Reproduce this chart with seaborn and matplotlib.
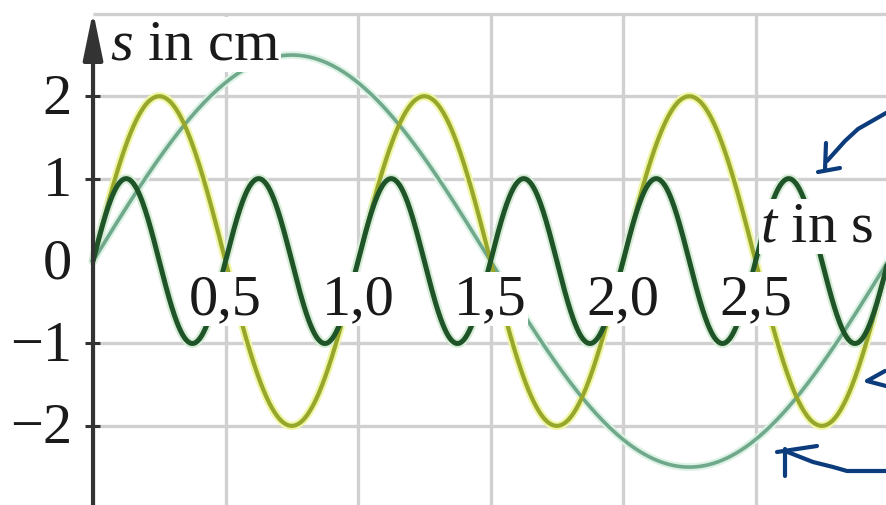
import numpy as np
import pandas as pd
import matplotlib
matplotlib.use("Agg")
import matplotlib.pyplot as plt
import seaborn as sns

# three oscillations (amplitude in cm, period in s)
oscillations = ["langsam", "mittel", "schnell"]
amplitudes_cm = [2.5, 2.0, 1.0]
periods_s = [3.0, 1.0, 0.5]
line_colors = ["#70a88c", "#97a72b", "#1f5428"]
halo_colors = ["#dcf2e4", "#f1f6a6", "#d6ecd6"]
line_widths = [2.6, 3.0, 3.6]

x_ticks = [0.5, 1.0, 1.5, 2.0, 2.5]
x_tick_labels = ["0,5", "1,0", "1,5", "2,0", "2,5"]
y_ticks = [2, 1, 0, -1, -2]
y_tick_labels = ["2", "1", "0", "−1", "−2"]

# hand-drawn blue pen marks on the right (pixel coords of the 886x506 image)
pen_strokes = [
    [(886, 114), (872, 122), (858, 130), (845, 142), (827, 162)],
    [(826, 144), (825, 171)],
    [(818, 173), (840, 169)],
    [(885, 372), (867, 382), (886, 387)],
    [(777, 453), (817, 447)],
    [(785, 450), (785, 477)],
    [(785, 452), (813, 463), (833, 468), (847, 472), (886, 472)],
]

t = np.linspace(0.0, 3.0, 900)
frames = []
for name, amp, per in zip(oscillations, amplitudes_cm, periods_s):
    frames.append(pd.DataFrame({"t": t, "s": amp * np.sin(2 * np.pi * t / per), "osc": name}))
df = pd.concat(frames, ignore_index=True)

sns.set_theme(style="white")
plt.rcParams["font.family"] = ["Liberation Serif", "DejaVu Serif"]
plt.rcParams["mathtext.fontset"] = "custom"
plt.rcParams["mathtext.rm"] = "Liberation Serif"
plt.rcParams["mathtext.it"] = "Liberation Serif:italic"

fig = plt.figure(figsize=(8.86, 5.06), dpi=100)
ax = fig.add_axes([0, 0, 1, 1])
ax.set_xlim(-0.351, 2.992)
ax.set_ylim(-2.96, 3.18)
ax.axis("off")

# grid
grid_c = "#d0d0d0"
ax.vlines(x_ticks, -3.5, 3.0, color=grid_c, lw=2.4, zorder=1)
ax.hlines([-2, -1, 1, 2, 3], 0.0, 3.2, color=grid_c, lw=2.4, zorder=1)

# curves
for name, c, h, lw in zip(oscillations, line_colors, halo_colors, line_widths):
    sub = df[df["osc"] == name]
    sns.lineplot(data=sub, x="t", y="s", ax=ax, color=h, lw=lw + 3, zorder=3, legend=False)
    sns.lineplot(data=sub, x="t", y="s", ax=ax, color=c, lw=lw, zorder=4, legend=False)

# axes with arrows
axis_c = "#333333"
ax.annotate("", xy=(0, 3.03), xytext=(0, -3.2),
            arrowprops=dict(arrowstyle="-|>,head_length=1.45,head_width=0.3",
                            mutation_scale=20, lw=3.0, color=axis_c, shrinkA=0, shrinkB=0),
            zorder=6)
ax.annotate("", xy=(3.01, 0), xytext=(0, 0),
            arrowprops=dict(arrowstyle="-|>,head_length=1.45,head_width=0.3",
                            mutation_scale=20, lw=3.0, color=axis_c, shrinkA=0, shrinkB=0),
            zorder=6)
ax.hlines([2, 1, -1, -2], -0.03, 0.027, color=axis_c, lw=2.2, zorder=6)

fs = 42
txt_c = "#1a1a1a"
for y, lab in zip(y_ticks, y_tick_labels):
    ax.text(-0.079, y - 0.2, lab, ha="right", va="baseline", fontsize=fs, color=txt_c, zorder=7)
for x, lab in zip(x_ticks, x_tick_labels):
    ax.text(x, -0.63, lab, ha="center", va="baseline", fontsize=fs, color=txt_c, zorder=7,
            bbox=dict(facecolor="white", edgecolor="none", pad=1))

ax.text(0.064, 2.46, r"$\it{s}$ in cm", ha="left", va="baseline", fontsize=fs, color=txt_c,
        zorder=7, bbox=dict(facecolor="white", edgecolor="none", pad=1))
ax.text(2.517, 0.25, r"$\it{t}$ in s", ha="left", va="baseline", fontsize=fs, color=txt_c,
        zorder=7, bbox=dict(facecolor="white", edgecolor="none", pad=1))

for stroke in pen_strokes:
    xs = [p[0] / 886 for p in stroke]
    ys = [1 - p[1] / 506 for p in stroke]
    ax.plot(xs, ys, transform=ax.transAxes, color="#0c3c7c", lw=3.0,
            solid_capstyle="round", zorder=8, clip_on=False)

fig.savefig("out.png", dpi=100)
